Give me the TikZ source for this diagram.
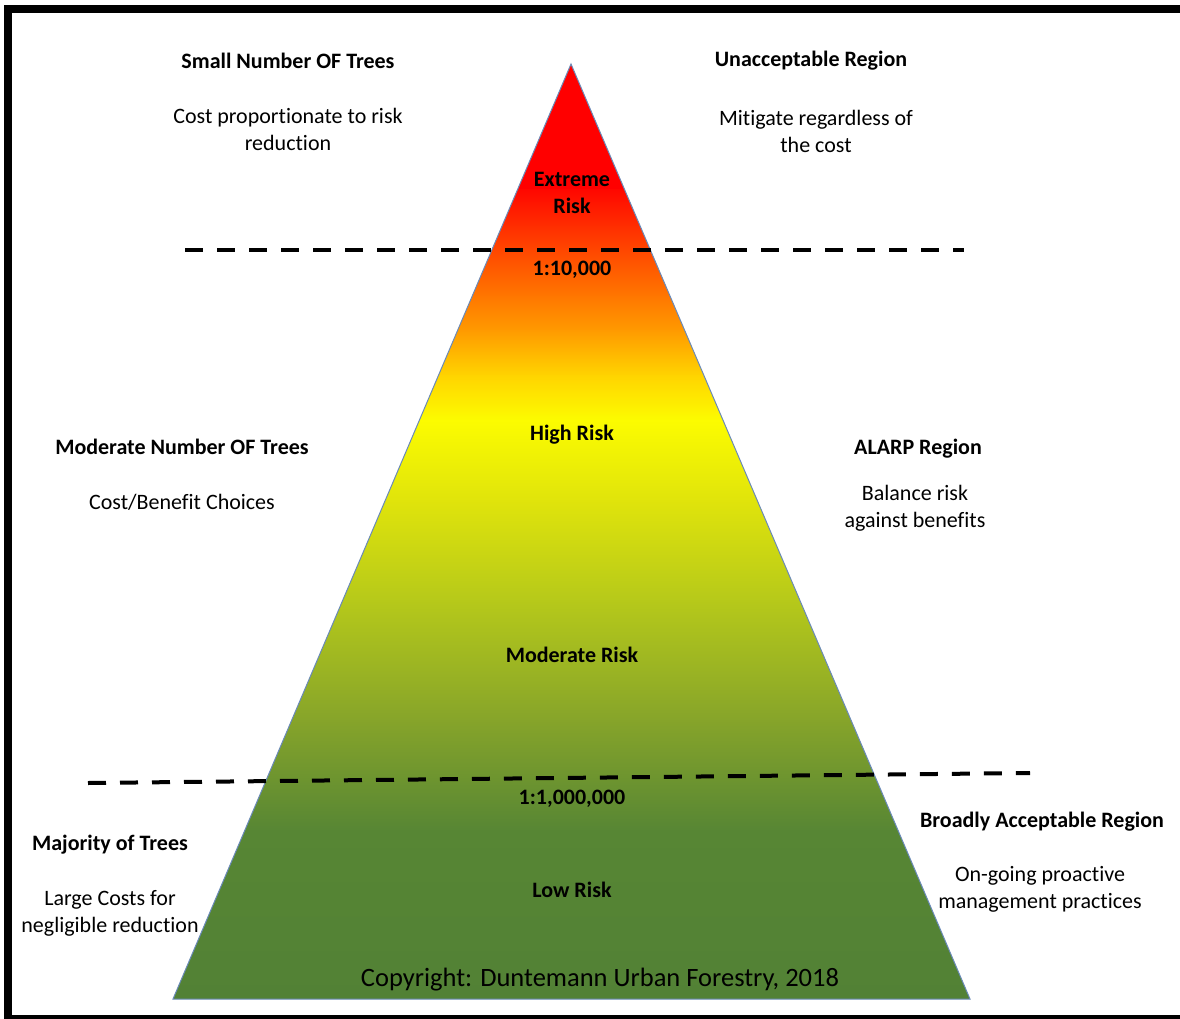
\documentclass[tikz,border=0pt]{standalone}
\usepackage{fontspec}
\setmainfont{Carlito}[Ligatures=NoCommon]
\definecolor{c0}{HTML}{FF0000}
\definecolor{c1}{HTML}{FF0800}
\definecolor{c2}{HTML}{FF5200}
\definecolor{c3}{HTML}{FF9A00}
\definecolor{c3b}{HTML}{FFD400}
\definecolor{c4}{HTML}{FCFC00}
\definecolor{c5}{HTML}{E0E40B}
\definecolor{c6}{HTML}{B6C91A}
\definecolor{c7}{HTML}{86A42A}
\definecolor{c8}{HTML}{578634}
\definecolor{c9}{HTML}{528135}
\definecolor{edge}{HTML}{6A8AB8}
\begin{document}
\begin{tikzpicture}[x=1pt,y=-1pt,
  lbl/.style={font=\fontsize{22}{27}\selectfont, align=center, inner sep=0pt, anchor=base},
  blbl/.style={font=\fontsize{22}{27}\selectfont\bfseries, align=center, inner sep=0pt, anchor=base},
  dashline/.style={line width=4pt, dash pattern=on 18pt off 14pt}]
\useasboundingbox (0,0) rectangle (1180,1019);
% frame
\begin{scope}
  \clip (0,0) rectangle (1180,1019);
  \draw[line width=8pt] (8,9) rectangle (1190,1019);
\end{scope}
% triangle
\coordinate (apex) at (571,64);
\coordinate (bl) at (173,999);
\coordinate (br) at (970,999);
\begin{scope}
  \clip (apex) -- (bl) -- (br) -- cycle;
  \fill[c0] (170,60) rectangle (975,191);
  \shade[top color=c1, bottom color=c2] (170,190) rectangle (975,261);
  \shade[top color=c2, bottom color=c3] (170,260) rectangle (975,331);
  \shade[top color=c3, bottom color=c3b] (170,330) rectangle (975,376);
  \shade[top color=c3b, bottom color=c4] (170,375) rectangle (975,421);
  \shade[top color=c4, bottom color=c5] (170,420) rectangle (975,501);
  \shade[top color=c5, bottom color=c6] (170,500) rectangle (975,601);
  \shade[top color=c6, bottom color=c7] (170,600) rectangle (975,721);
  \shade[top color=c7, bottom color=c8] (170,720) rectangle (975,831);
  \shade[top color=c8, bottom color=c9] (170,830) rectangle (975,1002);
\end{scope}
\draw[edge, line width=1pt, line join=miter] (apex) -- (bl) -- (br) -- cycle;
% dashed thresholds
\coordinate (d1a) at (185,250);
\coordinate (d1b) at (964,250);
\coordinate (d2a) at (88,783);
\coordinate (d2b) at (1030,773);
\draw[dashline] (d1a) -- (d1b);
\draw[dashline] (d2a) -- (d2b);
% left texts
\node[blbl] (t1) at (288,69) {Small Number OF Trees};
\node[lbl] (t2) at (288,124) {Cost proportionate to risk};
\node[lbl] (t3) at (288,151) {reduction};
\node[blbl] (t4) at (182,454) {Moderate Number OF Trees};
\node[lbl] (t5) at (182,509) {Cost/Benefit Choices};
\node[blbl] (t6) at (110,850) {Majority of Trees};
\node[lbl] (t7) at (110,905) {Large Costs for};
\node[lbl] (t8) at (110,932) {negligible reduction};
% right texts
\node[blbl] (r1) at (811,67) {Unacceptable Region};
\node[lbl] (r2) at (816,126) {Mitigate regardless of};
\node[lbl] (r3) at (816,153) {the cost};
\node[blbl] (r4) at (918,454) {ALARP Region};
\node[lbl] (r5) at (915,500) {Balance risk};
\node[lbl] (r6) at (915,527) {against benefits};
\node[blbl] (r7) at (1042,827) {Broadly Acceptable Region};
\node[lbl] (r8) at (1040,881) {On-going proactive};
\node[lbl] (r9) at (1040,908) {management practices};
% inner texts
\node[blbl] (m1) at (572,186) {Extreme};
\node[blbl] (m2) at (572,213) {Risk};
\node[blbl] (m3) at (572,275) {1:10,000};
\node[blbl] (m4) at (572,440) {High Risk};
\node[blbl] (m5) at (572,662) {Moderate Risk};
\node[blbl] (m6) at (572,804) {1:1,000,000};
\node[blbl] (m7) at (572,897) {Low Risk};
\node[font=\fontsize{26.5}{32}\selectfont, inner sep=0pt, anchor=base] (cp) at (600,986) {Copyright: Duntemann Urban Forestry, 2018};
\end{tikzpicture}
\end{document}
